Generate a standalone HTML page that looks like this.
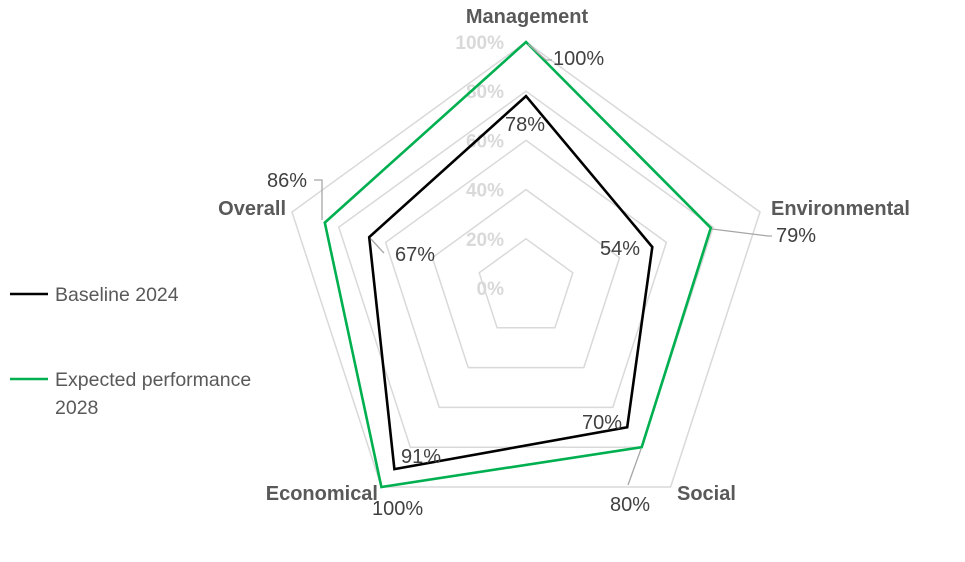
<!DOCTYPE html>
<html><head><meta charset="utf-8"><style>
body{margin:0;background:#fff;width:965px;height:557px;overflow:hidden}
svg{font-family:"Liberation Sans",sans-serif}
</style></head><body>
<svg id="s" width="965" height="557" xmlns="http://www.w3.org/2000/svg"></svg>
<script>
var cx=526,cy=288,R=246,ang=[-90,-18,54,126,198];
function pt(p,i){var a=ang[i]*Math.PI/180,r=R*p/100;return [cx+r*Math.cos(a),cy+r*Math.sin(a)];}
function poly(v,st,w){return '<polygon points="'+v.map(function(p,i){return pt(p,i).map(function(n){return n.toFixed(1)}).join(',')}).join(' ')+'" fill="none" stroke="'+st+'" stroke-width="'+w+'" stroke-linejoin="miter"/>';}
var h='';
[20,40,60,80,100].forEach(function(p){h+=poly([p,p,p,p,p],'#d9d9d9',1.5);});
var ticks=[0,20,40,60,80,100];
ticks.forEach(function(p){h+='<text x="504" y="'+(cy-R*p/100+7)+'" text-anchor="end" font-size="19" font-weight="bold" fill="#d9d9d9">'+p+'%</text>';});
h+=poly([78,54,70,91,67],'#000',2.6);
h+=poly([100,79,80,100,86],'#00b050',2.6);
h+='<polyline points="528,44 546,60 552,60" fill="none" stroke="#a6a6a6" stroke-width="1.3"/>';
h+='<polyline points="712,229 768,236 772,236" fill="none" stroke="#a6a6a6" stroke-width="1.3"/>';
h+='<polyline points="641,449 628,485" fill="none" stroke="#a6a6a6" stroke-width="1.3"/>';
h+='<polyline points="314,180 322,180 322,220" fill="none" stroke="#a6a6a6" stroke-width="1.3"/>';
h+='<polyline points="371,239 382,251 384,253" fill="none" stroke="#a6a6a6" stroke-width="1.3"/>';
function t(x,y,s,a,b,c,fs){h+='<text x="'+x+'" y="'+y+'" font-size="'+(fs||20)+'" text-anchor="'+(a||'start')+'" font-weight="'+(b?'bold':'normal')+'" fill="'+(c||'#404040')+'">'+s+'</text>';}
t(527,23,'Management','middle',1,'#595959',20);
t(771,215,'Environmental','start',1,'#595959',20);
t(677,500,'Social','start',1,'#595959',20);
t(378,500,'Economical','end',1,'#595959',20);
t(286,215,'Overall','end',1,'#595959',20);
t(553,65,'100%');t(505,131,'78%');t(776,242,'79%');t(600,255,'54%');
t(582,429,'70%');t(610,511,'80%');t(401,463,'91%');t(372,515,'100%');
t(267,187,'86%');t(395,261,'67%');
h+='<line x1="10" y1="294" x2="48" y2="294" stroke="#000" stroke-width="2.6"/>';
t(55,301,'Baseline 2024','start',0,'#595959',19.5);
h+='<line x1="10" y1="379" x2="48" y2="379" stroke="#00b050" stroke-width="2.6"/>';
t(55,386,'Expected performance','start',0,'#595959',19.5);
t(55,414,'2028','start',0,'#595959',19.5);
document.getElementById('s').innerHTML=h;
</script>
</body></html>
